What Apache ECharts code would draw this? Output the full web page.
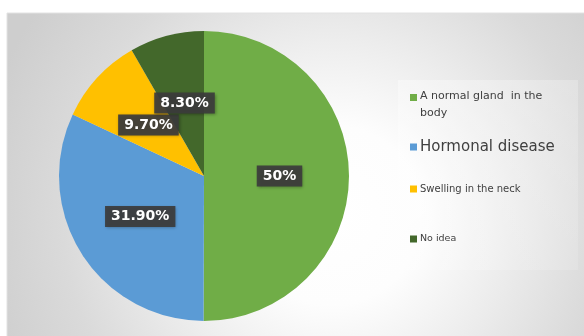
<!DOCTYPE html>
<html>
<head>
<meta charset="utf-8">
<script src="https://cdn.jsdelivr.net/npm/echarts@6/dist/echarts.min.js"></script>
<style>
  html, body { margin: 0; padding: 0; background: #ffffff; }
  #chart { width: 584px; height: 336px; }
</style>
</head>
<body>
<div id="chart"></div>
<script>
// Survey answers and their shares (percent)
const categories = ['A normal gland in the body', 'Hormonal disease', 'Swelling in the neck', 'No idea'];
const shares = [50, 31.9, 9.7, 8.3];
const shareLabels = ['50%', '31.90%', '9.70%', '8.30%'];
const sliceColors = ['#70ad47', '#5b9bd5', '#ffc000', '#43682b'];

// Legend entries: each one placed on its own, with its own text size
const legendTops = [83, 133, 177, 227];
const legendFontSizes = [11, 15, 10, 9.5];
const legendLineHeights = [17, 18, 14, 14];

const chart = echarts.init(document.getElementById('chart'), null, { renderer: 'canvas' });

const pieData = categories.map((name, i) => ({
  name: name,
  value: shares[i],
  itemStyle: { color: sliceColors[i] },
  label: { formatter: shareLabels[i] }
}));

// The first entry wraps onto two lines; its marker is a square sitting at the
// top of a taller (otherwise empty) icon so that it lines up with the first line.
const topAlignedSquare = 'path://M0,0h7v7h-7z M0,22h0.01v0.01h-0.01z';

const legends = categories.map((name, i) => ({
  data: [name],
  left: 405,
  top: legendTops[i],
  orient: 'vertical',
  icon: i === 0 ? topAlignedSquare : 'rect',
  itemWidth: 7,
  itemHeight: i === 0 ? 22 : 7,
  itemGap: 0,
  width: 150,
  selectedMode: false,
  formatter: i === 0 ? 'A normal gland  in the\nbody' : name,
  textStyle: {
    color: '#404040',
    fontFamily: 'DejaVu Sans',
    fontSize: legendFontSizes[i],
    lineHeight: legendLineHeights[i],
    padding: [0, 0, 0, -2]
  }
}));

chart.setOption({
  animation: false,
  graphic: [
    {
      type: 'rect',
      z: -10,
      shape: { x: 7, y: 13, width: 580, height: 326 },
      style: {
        fill: {
          type: 'radial', x: 0.56, y: 0.62, r: 1.1,
          colorStops: [
            { offset: 0, color: '#ffffff' },
            { offset: 0.25, color: '#fdfdfd' },
            { offset: 0.5, color: '#ececec' },
            { offset: 0.75, color: '#dadada' },
            { offset: 1, color: '#cecece' }
          ]
        },
        stroke: '#e2e2e2',
        lineWidth: 1
      }
    },
    {
      type: 'rect',
      z: -9,
      shape: { x: 398, y: 80, width: 180, height: 190 },
      style: {
        fill: {
          type: 'linear', x: 0, y: 0, x2: 1, y2: 1,
          colorStops: [
            { offset: 0, color: 'rgba(255,255,255,0.35)' },
            { offset: 1, color: 'rgba(255,255,255,0.12)' }
          ]
        }
      }
    }
  ],
  legend: legends,
  series: [
    {
      type: 'pie',
      center: [204, 176],
      radius: [0, 145],
      startAngle: 90,
      clockwise: true,
      avoidLabelOverlap: false,
      data: pieData,
      label: {
        show: true,
        position: 'inside',
        color: '#ffffff',
        fontFamily: 'DejaVu Sans',
        fontWeight: 'bold',
        fontSize: 14,
        backgroundColor: 'rgba(60,60,60,0.92)',
        padding: [4, 6, 3, 6],
        shadowColor: 'rgba(0,0,0,0.35)',
        shadowBlur: 3,
        shadowOffsetX: 1,
        shadowOffsetY: 1
      },
      labelLine: { show: false },
      itemStyle: { borderWidth: 0 },
      emphasis: { disabled: true }
    }
  ]
});
</script>
</body>
</html>
